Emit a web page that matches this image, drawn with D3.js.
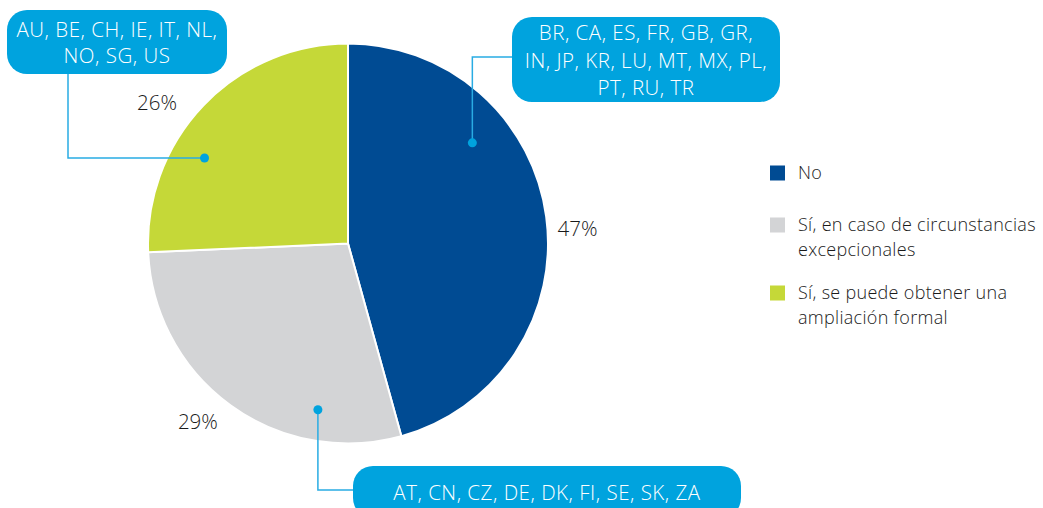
<!DOCTYPE html>
<html>
<head>
<meta charset="utf-8">
<script src="https://cdn.jsdelivr.net/npm/d3@7"></script>
<style>
  body { margin: 0; background: #fff; }
  svg { display: block; font-family: "Open Sans", sans-serif; font-weight: 300; }
</style>
</head>
<body>
<div id="chart"></div>
<script>
// data
const categories = ["No", "Sí, en caso de circunstancias excepcionales", "Sí, se puede obtener una ampliación formal"]
// slice shares as drawn in the picture, and the printed labels
const values = [45.7, 28.6, 25.7]
const pctLabels = ["47%", "29%", "26%"]
const legendLines = [
  ["No"],
  ["Sí, en caso de circunstancias", "excepcionales"],
  ["Sí, se puede obtener una", "ampliación formal"]
]
const countryLines = [
  ["BR, CA, ES, FR, GB, GR,", "IN, JP, KR, LU, MT, MX, PL,", "PT, RU, TR"],
  ["AT, CN, CZ, DE, DK, FI, SE, SK, ZA"],
  ["AU, BE, CH, IE, IT, NL,", "NO, SG, US"]
]
const colors = ["#004b93", "#d3d4d6", "#c5d838"]

// layout of labels and callouts (box + elbow), one per slice
const labelPos = [{t: 0.525, r: 230}, {t: 0.54, r: 233}, {t: 0.42, r: 237}]
const callouts = [
  {t: 0.31, r: 160, box: {x: 512, y: 17, w: 268, h: 85, lh: 27.5}, path: "h-up"},
  {t: 0.25, r: 169, box: {x: 353, y: 466, w: 388, h: 52, lh: 26}, path: "v-right"},
  {t: 0.36, r: 167, box: {x: 7, y: 10, w: 220, h: 64, lh: 26}, path: "v-left"}
]

const W = 1043, H = 508
const cx = 348, cy = 243.5, R = 200
const cyan = "#00a3de", lineCol = "#29ace3"

const svg = d3.select("#chart").append("svg")
  .attr("width", W).attr("height", H)

const pie = d3.pie().sort(null).value(d => d)
const arcs = pie(values)
const arc = d3.arc().innerRadius(0).outerRadius(R)

const polar = (d, t, r) => {
  const a = d.startAngle + (d.endAngle - d.startAngle) * t
  return [cx + r * Math.sin(a), cy - r * Math.cos(a)]
}

svg.append("g")
  .attr("transform", `translate(${cx},${cy})`)
  .selectAll("path.slice")
  .data(arcs)
  .join("path")
  .attr("class", "slice")
  .attr("d", arc)
  .attr("fill", (d, i) => colors[i])
  .attr("stroke", "#fff")
  .attr("stroke-width", 2)

// percent labels
svg.selectAll("text.pct")
  .data(arcs)
  .join("text")
  .attr("class", "pct")
  .attr("transform", (d, i) => `translate(${polar(d, labelPos[i].t, labelPos[i].r)})`)
  .attr("text-anchor", "middle")
  .attr("dy", "0.35em")
  .attr("font-size", 20.5)
  .attr("fill", "#1a1a1a")
  .text((d, i) => pctLabels[i])

// callouts
arcs.forEach((d, i) => {
  const c = callouts[i]
  const [px, py] = polar(d, c.t, c.r)
  const b = c.box
  let pts
  if (c.path === "h-up") {
    pts = [[px, py], [px, b.y + 40], [b.x, b.y + 40]]
  } else if (c.path === "v-right") {
    pts = [[px, py], [px, b.y + 24], [b.x, b.y + 24]]
  } else {
    pts = [[px, py], [68, py], [68, b.y + b.h]]
  }
  svg.append("path")
    .attr("d", d3.line()(pts))
    .attr("fill", "none")
    .attr("stroke", lineCol)
    .attr("stroke-width", 1.5)
  svg.append("circle")
    .attr("cx", px).attr("cy", py).attr("r", 4.5)
    .attr("fill", cyan)

  svg.append("rect")
    .attr("x", b.x).attr("y", b.y)
    .attr("width", b.w).attr("height", b.h)
    .attr("rx", 20).attr("ry", 20)
    .attr("fill", cyan)
  const lines = countryLines[i]
  const y0 = b.y + b.h / 2 + 1.3 - (lines.length - 1) * b.lh / 2
  // one text per line
  svg.append("g")
    .selectAll("text")
    .data(lines)
    .join("text")
    .attr("text-anchor", "middle")
    .attr("font-size", 20.5)
    .attr("letter-spacing", 0.5)
    .attr("fill", "#fff")
    .attr("x", b.x + b.w / 2)
    .attr("y", (l, j) => y0 + j * b.lh)
    .attr("dy", "0.35em")
    .text(l => l)
})

// legend
const legendY = [173, 225, 293]
const legend = svg.append("g").attr("transform", "translate(770,0)")
const items = legend.selectAll("g.item")
  .data(categories)
  .join("g")
  .attr("class", "item")
  .attr("transform", (d, i) => `translate(0,${legendY[i]})`)
items.append("rect")
  .attr("x", 0).attr("y", -7.5)
  .attr("width", 15).attr("height", 15)
  .attr("fill", (d, i) => colors[i])
items.append("text")
  .attr("font-size", 18)
  .attr("letter-spacing", 0.3)
  .attr("fill", "#1a1a1a")
  .selectAll("tspan")
  .data((d, i) => legendLines[i])
  .join("tspan")
  .attr("x", 28)
  .attr("y", (l, j) => j * 25)
  .attr("dy", "0.35em")
  .text(l => l)
</script>
</body>
</html>
